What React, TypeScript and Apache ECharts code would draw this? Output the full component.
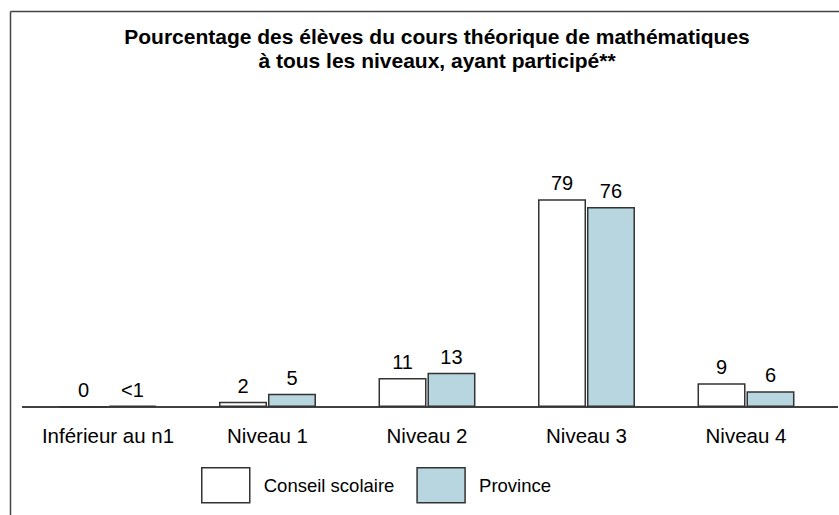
import React, { useEffect, useRef } from "react";
import * as echarts from "echarts";

const categories = ["Inférieur au n1", "Niveau 1", "Niveau 2", "Niveau 3", "Niveau 4"];
const conseilValues = [0, 2, 11, 79, 9];
const provinceValues = [0.5, 5, 13, 76, 6];
const conseilLabels = ["0", "2", "11", "79", "9"];
const provinceLabels = ["<1", "5", "13", "76", "6"];
const seriesNames = ["Conseil scolaire", "Province"];
const titleLines = [
  "Pourcentage des élèves du cours théorique de mathématiques",
  "à tous les niveaux, ayant participé**",
];

const FONT = "'Liberation Sans', Arial, Helvetica, sans-serif";

export default function App() {
  const ref = useRef<HTMLDivElement>(null);
  useEffect(() => {
    if (!ref.current) return;
    const chart = echarts.init(ref.current, null, { renderer: "svg" });
    const labelStyle = {
      show: true,
      position: "top" as const,
      distance: 6,
      fontSize: 20,
      color: "#000",
      fontFamily: FONT,
    };
    chart.setOption({
      animation: false,
      backgroundColor: "#fff",
      textStyle: { fontFamily: FONT },
      title: {
        text: titleLines.join("\n"),
        left: 432,
        textAlign: "center",
        top: 19,
        textStyle: { fontSize: 21, fontWeight: "bold", color: "#000", lineHeight: 24, fontFamily: FONT },
      },
      legend: {
        left: 196,
        top: 462,
        itemWidth: 48,
        itemHeight: 35,
        itemGap: 22,
        icon: "rect",
        itemStyle: { borderColor: "#333", borderWidth: 1.5 },
        textStyle: { fontSize: 18.5, color: "#000", padding: [0, 0, 0, 9], fontFamily: FONT },
        data: seriesNames,
      },
      grid: { left: 28.25, right: 13.25, top: 144, bottom: 108 },
      xAxis: {
        type: "category",
        data: categories,
        axisLine: { show: false },
        axisTick: { show: false },
        axisLabel: { interval: 0, fontSize: 20.5, color: "#000", margin: 18, fontFamily: FONT },
      },
      yAxis: { type: "value", min: 0, max: 100, show: false, splitLine: { show: false } },
      graphic: [
        { type: "line", shape: { x1: 22, y1: 407, x2: 838, y2: 407 }, style: { stroke: "#000", lineWidth: 1.5 } },
        { type: "line", shape: { x1: 10.5, y1: 11.5, x2: 839, y2: 11.5 }, style: { stroke: "#444", lineWidth: 1.5 } },
        { type: "line", shape: { x1: 10.5, y1: 11.5, x2: 10.5, y2: 515 }, style: { stroke: "#444", lineWidth: 1.5 } },
      ],
      series: [
        {
          name: seriesNames[0],
          type: "bar",
          data: conseilValues,
          barWidth: 48,
          barGap: "2%",
          itemStyle: { color: "#ffffff", borderColor: "#333", borderWidth: 1.5 },
          label: { ...labelStyle, formatter: (p: any) => conseilLabels[p.dataIndex] },
        },
        {
          name: seriesNames[1],
          type: "bar",
          data: provinceValues,
          barWidth: 48,
          itemStyle: { color: "#b8d6e0", borderColor: "#333", borderWidth: 1.5 },
          label: { ...labelStyle, formatter: (p: any) => provinceLabels[p.dataIndex] },
        },
      ],
    });
    return () => chart.dispose();
  }, []);
  return (
    <div
      ref={ref}
      style={{ position: "absolute", left: 0, top: 0, width: 839, height: 515 }}
    />
  );
}
